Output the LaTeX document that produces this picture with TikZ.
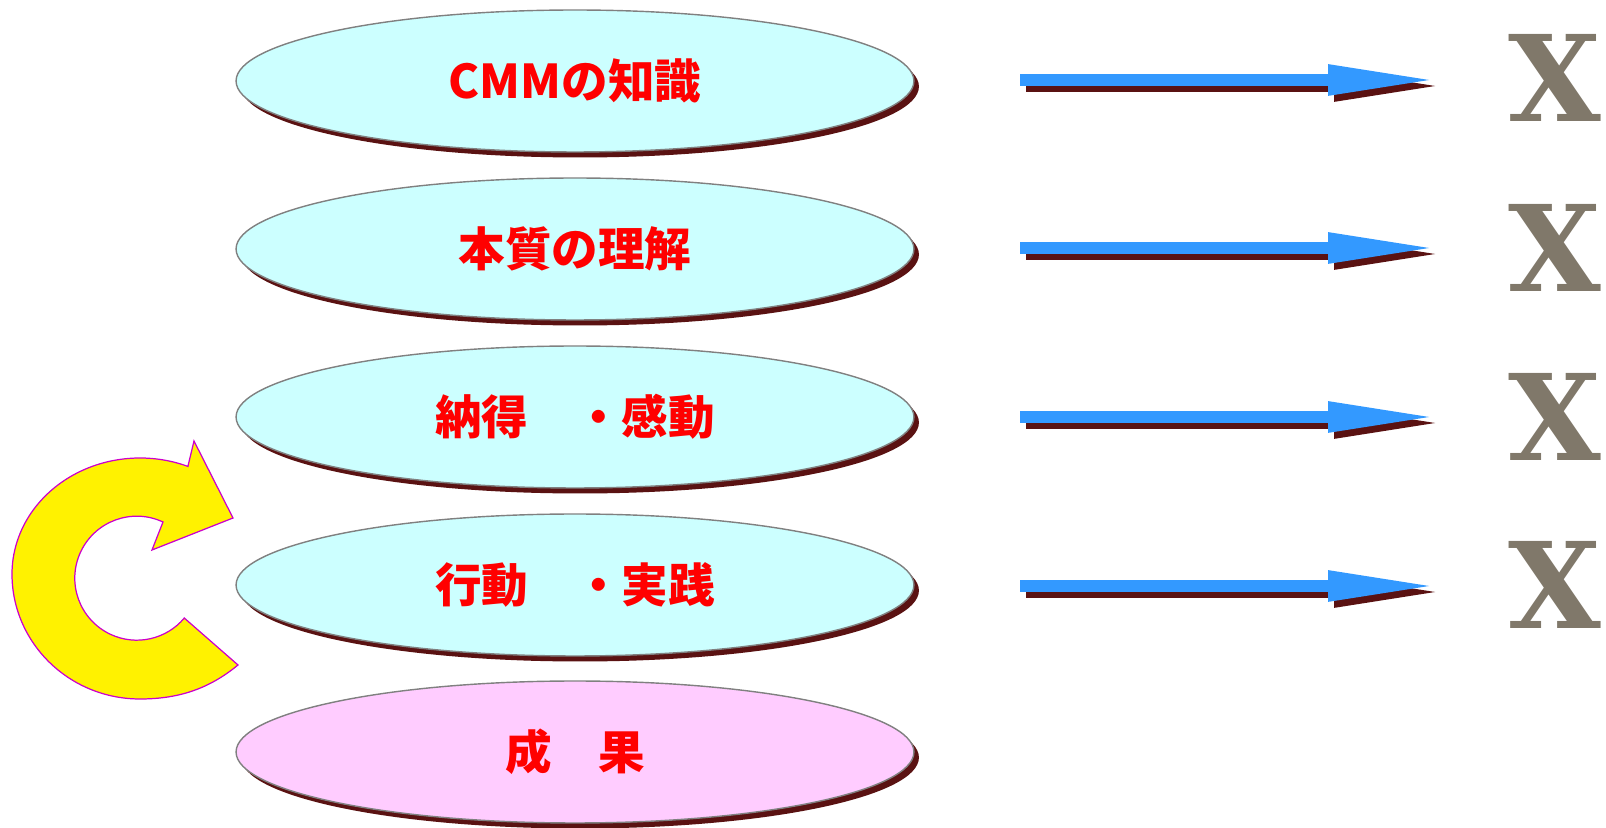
\documentclass[tikz,border=0pt]{standalone}
\usepackage{fontspec}
\usepackage{tikz}
\usetikzlibrary{arrows.meta, shapes, shadows}
\newfontfamily\jpfont{Noto Sans CJK JP}
\newfontfamily\xfont{DejaVu Serif}
\definecolor{skyfill}{RGB}{204,255,255}
\definecolor{pinkfill}{RGB}{255,204,255}
\definecolor{darkred}{RGB}{90,18,18}
\definecolor{arrowblue}{RGB}{51,153,255}
\definecolor{ringedge}{RGB}{204,0,204}
\definecolor{xbody}{RGB}{128,120,106}
\tikzset{
	stage/.style={ellipse, draw=gray, line width=0.8pt, fill=skyfill, minimum width=13.56cm, minimum height=2.84cm, inner sep=0pt, text=red, font=\jpfont\bfseries\fontsize{26.5}{30}\selectfont, drop shadow={shadow xshift=0.1cm, shadow yshift=-0.11cm, opacity=1, fill=darkred}},
	flow/.style={line width=0.24cm, arrowblue, -{Triangle[length=2.2cm, width=0.56cm]}},
	flowshadow/.style={flow, darkred},
	xmark/.style={font=\xfont\bfseries\fontsize{68}{72}\selectfont, text=xbody, inner sep=0pt},
	ring/.style={fill=yellow, draw=ringedge, line width=0.7pt, line join=miter}
}

\begin{document}
\begin{tikzpicture}[x=0.02cm, y=0.02cm]
			\useasboundingbox (0,0) rectangle (1606,828);
			
			\node[stage] (knowledge) at (575,747) {CMMの知識};
			\node[stage] (essence) at (575,579) {本質の理解};
			\node[stage] (consent) at (575,411) {納得　・感動};
			\node[stage] (action) at (575,243) {行動　・実践};
			\node[stage, fill=pinkfill] (result) at (575,76) {成　果};
			
			\node[xmark] (no1) at (1555,750) {X};
			\node[xmark] (no2) at (1555,580) {X};
			\node[xmark] (no3) at (1555,411) {X};
			\node[xmark] (no4) at (1555,243) {X};
			
			\coordinate (a1) at (1020,748);
			\coordinate (b1) at (1438,748);
			\coordinate (a2) at (1020,580);
			\coordinate (b2) at (1438,580);
			\coordinate (a3) at (1020,411);
			\coordinate (b3) at (1438,411);
			\coordinate (a4) at (1020,242);
			\coordinate (b4) at (1438,242);
			
			\draw[flowshadow] ([shift={(6,-6)}]a1) -- ([shift={(6,-6)}]b1);
			\draw[flowshadow] ([shift={(6,-6)}]a2) -- ([shift={(6,-6)}]b2);
			\draw[flowshadow] ([shift={(6,-6)}]a3) -- ([shift={(6,-6)}]b3);
			\draw[flowshadow] ([shift={(6,-6)}]a4) -- ([shift={(6,-6)}]b4);
			
			\draw[flow] (a1) -- (b1);
			\draw[flow] (a2) -- (b2);
			\draw[flow] (a3) -- (b3);
			\draw[flow] (a4) -- (b4);
			
			% turning arrow
			\draw[ring] (188,362) -- (194,387) -- (233,310) -- (152,278) -- (163,306) arc[start angle=65, end angle=320, radius=62] -- (238,163) .. controls (210,140) and (180,129) .. (140,129) arc[start angle=270, end angle=180, x radius=128, y radius=125] arc[start angle=180, end angle=68, x radius=128, y radius=116] -- cycle;
		\end{tikzpicture}
\end{document}
